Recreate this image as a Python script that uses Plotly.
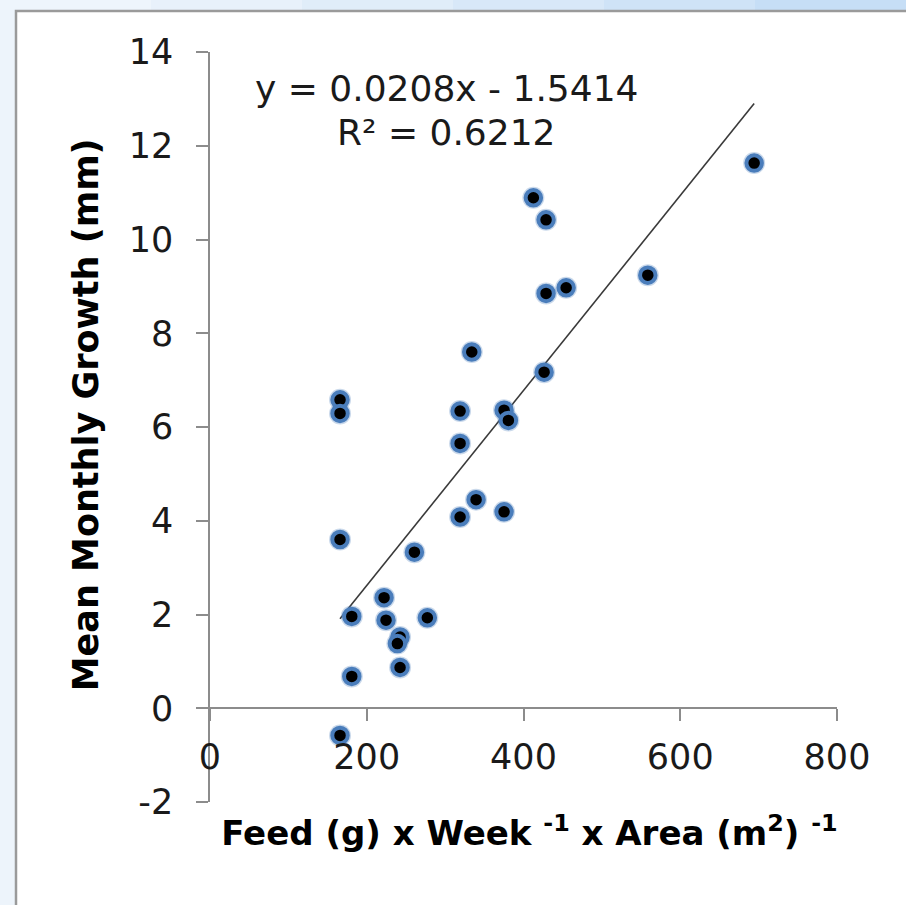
import plotly.graph_objects as go

# ---- data ----
feed = [165.9, 165.9, 165.9, 165.9, 180.9, 180.9, 222.1, 224.6, 242.5, 239.1,
        242.5, 260.8, 277.3, 319.1, 319.1, 319.1, 334.0, 339.5, 375.2, 380.7,
        375.2, 426.3, 412.6, 428.8, 428.8, 454.4, 558.6, 694.3]
growth = [6.58, 6.29, 3.60, -0.58, 1.96, 0.68, 2.36, 1.88, 1.52, 1.38,
          0.87, 3.33, 1.93, 6.34, 5.65, 4.08, 7.60, 4.45, 6.36, 6.14,
          4.19, 7.17, 10.89, 10.42, 8.85, 8.97, 9.24, 11.63]
slope = 0.0208
intercept = -1.5414
r_squared = 0.6212
x_ticks = [0, 200, 400, 600, 800]
y_ticks = [-2, 0, 2, 4, 6, 8, 10, 12, 14]

W, H = 906, 905
ML, MR, MT, MB = 210, 69, 52, 103
PW, PH = W - ML - MR, H - MT - MB


def px(p):
    return (p - ML) / PW


def py(q):
    return (H - MB - q) / PH


FONT = "DejaVu Sans"

fig = go.Figure()

# trendline
x_line = [min(feed), max(feed)]
y_line = [slope * v + intercept for v in x_line]
fig.add_trace(go.Scatter(x=x_line, y=y_line, mode="lines",
                         line=dict(color="#3a3a3a", width=1.6),
                         hoverinfo="skip", showlegend=False))
# soft glow under markers
fig.add_trace(go.Scatter(x=feed, y=growth, mode="markers",
                         marker=dict(size=22, color="rgba(79,129,189,0.30)", line=dict(width=0)),
                         hoverinfo="skip", showlegend=False))
fig.add_trace(go.Scatter(x=feed, y=growth, mode="markers",
                         marker=dict(size=15.5, color="black",
                                     line=dict(color="#4a7dbb", width=4)),
                         showlegend=False))

eq_text = f"y = {slope}x - {abs(intercept)}"
r2_text = f"R² = {r_squared}"
eq_x = (446 - ML) / PW * 800
fig.add_annotation(x=eq_x, y=(708.25 - 88) / (PH / 16), xref="x", yref="y",
                   text=eq_text, showarrow=False, xanchor="center", yanchor="middle",
                   font=dict(family=FONT, size=36, color="#1a1a1a"))
fig.add_annotation(x=eq_x, y=(708.25 - 132) / (PH / 16), xref="x", yref="y",
                   text=r2_text, showarrow=False, xanchor="center", yanchor="middle",
                   font=dict(family=FONT, size=36, color="#1a1a1a"))

# background frame (decoration)
shapes = []
top_cols = ["#eef5fc", "#e8f1fb", "#e0edf9", "#d8e8f8", "#cfe3f7", "#c6def6"]
seg = W / len(top_cols)
for i, c in enumerate(top_cols):
    shapes.append(dict(type="rect", xref="paper", yref="paper", layer="below",
                       x0=px(i * seg), x1=px((i + 1) * seg), y0=py(10), y1=py(0),
                       fillcolor=c, line=dict(width=0)))
shapes.append(dict(type="rect", xref="paper", yref="paper", layer="below",
                   x0=px(0), x1=px(15), y0=py(H), y1=py(10),
                   fillcolor="#edf4fb", line=dict(width=0)))
shapes.append(dict(type="rect", xref="paper", yref="paper", layer="below",
                   x0=px(16), x1=px(W + 20), y0=py(H + 20), y1=py(11),
                   fillcolor="white", line=dict(color="#9a9a9a", width=2.5)))

axis_common = dict(showgrid=False, zeroline=False, showline=True,
                   linecolor="#8c8c8c", linewidth=1.5, ticks="outside",
                   ticklen=12, tickwidth=1.5, tickcolor="#8c8c8c",
                   tickfont=dict(family=FONT, size=35, color="#1a1a1a"))

fig.update_layout(
    width=W, height=H,
    margin=dict(l=ML, r=MR, t=MT, b=MB, pad=0),
    paper_bgcolor="#f3f8fd", plot_bgcolor="rgba(0,0,0,0)",
    shapes=shapes,
    xaxis=dict(range=[0, 800], tickvals=x_ticks, ticktext=[str(v) for v in x_ticks],
               anchor="free", position=2 / 16, ticklabelstandoff=6,
               title=dict(text="<b>\u00a0Feed (g) x Week <sup>-1</sup> x Area (m<sup>2</sup>) <sup>-1</sup></b>",
                          font=dict(family=FONT, size=34, color="black"), standoff=44),
               **axis_common),
    yaxis=dict(range=[-2, 14], tickvals=y_ticks, ticktext=[str(v) for v in y_ticks],
               ticklabelstandoff=16,
               title=dict(text="<b>\u00a0\u00a0Mean Monthly Growth (mm)</b>",
                          font=dict(family=FONT, size=35, color="black"), standoff=19),
               **axis_common),
)

fig.write_html("out.html", config={"displayModeBar": False},
               post_script="document.body.style.margin='0';")
